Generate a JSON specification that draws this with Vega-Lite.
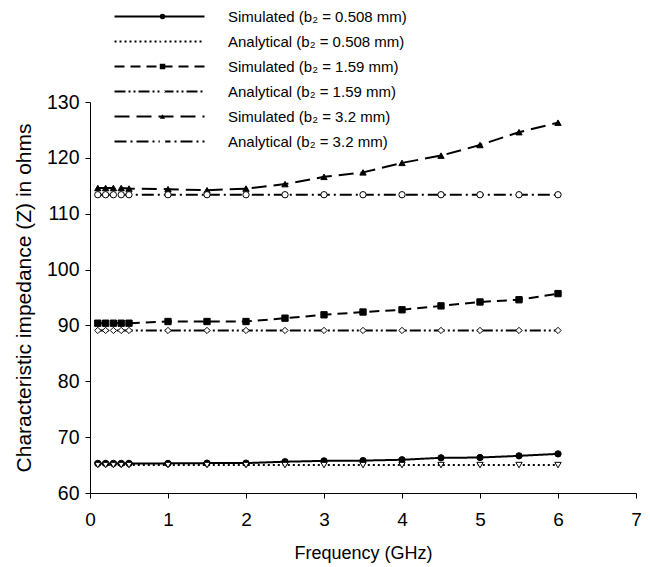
{
  "$schema": "https://vega.github.io/schema/vega-lite/v6.json",
  "width": 546,
  "height": 391,
  "autosize": {"type": "none"},
  "padding": {"left": 90, "top": 102, "right": 14, "bottom": 74},
  "background": "white",
  "config": {
    "view": {"stroke": null},
    "font": "Liberation Sans",
    "axis": {"domainColor": "black", "tickColor": "black", "labelColor": "black", "titleColor": "black", "grid": false, "tickSize": 5, "labelFont": "Liberation Sans", "titleFont": "Liberation Sans", "titleFontWeight": "normal"},
    "legend": {"labelFont": "Liberation Sans", "labelColor": "black"}
  },
  "datasets": {
    "pts": [
      {"f": 0.1, "z": 65.3, "s": "Simulated (b₂ = 0.508 mm)"},
      {"f": 0.2, "z": 65.3, "s": "Simulated (b₂ = 0.508 mm)"},
      {"f": 0.3, "z": 65.3, "s": "Simulated (b₂ = 0.508 mm)"},
      {"f": 0.4, "z": 65.3, "s": "Simulated (b₂ = 0.508 mm)"},
      {"f": 0.5, "z": 65.3, "s": "Simulated (b₂ = 0.508 mm)"},
      {"f": 1.0, "z": 65.3, "s": "Simulated (b₂ = 0.508 mm)"},
      {"f": 1.5, "z": 65.35, "s": "Simulated (b₂ = 0.508 mm)"},
      {"f": 2.0, "z": 65.35, "s": "Simulated (b₂ = 0.508 mm)"},
      {"f": 2.5, "z": 65.6, "s": "Simulated (b₂ = 0.508 mm)"},
      {"f": 3.0, "z": 65.75, "s": "Simulated (b₂ = 0.508 mm)"},
      {"f": 3.5, "z": 65.8, "s": "Simulated (b₂ = 0.508 mm)"},
      {"f": 4.0, "z": 65.95, "s": "Simulated (b₂ = 0.508 mm)"},
      {"f": 4.5, "z": 66.3, "s": "Simulated (b₂ = 0.508 mm)"},
      {"f": 5.0, "z": 66.35, "s": "Simulated (b₂ = 0.508 mm)"},
      {"f": 5.5, "z": 66.65, "s": "Simulated (b₂ = 0.508 mm)"},
      {"f": 6.0, "z": 67.0, "s": "Simulated (b₂ = 0.508 mm)"},

      {"f": 0.1, "z": 65.0, "s": "Analytical (b₂ = 0.508 mm)"},
      {"f": 0.2, "z": 65.0, "s": "Analytical (b₂ = 0.508 mm)"},
      {"f": 0.3, "z": 65.0, "s": "Analytical (b₂ = 0.508 mm)"},
      {"f": 0.4, "z": 65.0, "s": "Analytical (b₂ = 0.508 mm)"},
      {"f": 0.5, "z": 65.0, "s": "Analytical (b₂ = 0.508 mm)"},
      {"f": 1.0, "z": 65.0, "s": "Analytical (b₂ = 0.508 mm)"},
      {"f": 1.5, "z": 65.0, "s": "Analytical (b₂ = 0.508 mm)"},
      {"f": 2.0, "z": 65.0, "s": "Analytical (b₂ = 0.508 mm)"},
      {"f": 2.5, "z": 65.0, "s": "Analytical (b₂ = 0.508 mm)"},
      {"f": 3.0, "z": 65.0, "s": "Analytical (b₂ = 0.508 mm)"},
      {"f": 3.5, "z": 65.0, "s": "Analytical (b₂ = 0.508 mm)"},
      {"f": 4.0, "z": 65.0, "s": "Analytical (b₂ = 0.508 mm)"},
      {"f": 4.5, "z": 65.0, "s": "Analytical (b₂ = 0.508 mm)"},
      {"f": 5.0, "z": 65.0, "s": "Analytical (b₂ = 0.508 mm)"},
      {"f": 5.5, "z": 65.0, "s": "Analytical (b₂ = 0.508 mm)"},
      {"f": 6.0, "z": 65.0, "s": "Analytical (b₂ = 0.508 mm)"},

      {"f": 0.1, "z": 90.4, "s": "Simulated (b₂ = 1.59 mm)"},
      {"f": 0.2, "z": 90.4, "s": "Simulated (b₂ = 1.59 mm)"},
      {"f": 0.3, "z": 90.4, "s": "Simulated (b₂ = 1.59 mm)"},
      {"f": 0.4, "z": 90.4, "s": "Simulated (b₂ = 1.59 mm)"},
      {"f": 0.5, "z": 90.4, "s": "Simulated (b₂ = 1.59 mm)"},
      {"f": 1.0, "z": 90.7, "s": "Simulated (b₂ = 1.59 mm)"},
      {"f": 1.5, "z": 90.7, "s": "Simulated (b₂ = 1.59 mm)"},
      {"f": 2.0, "z": 90.7, "s": "Simulated (b₂ = 1.59 mm)"},
      {"f": 2.5, "z": 91.3, "s": "Simulated (b₂ = 1.59 mm)"},
      {"f": 3.0, "z": 91.9, "s": "Simulated (b₂ = 1.59 mm)"},
      {"f": 3.5, "z": 92.4, "s": "Simulated (b₂ = 1.59 mm)"},
      {"f": 4.0, "z": 92.8, "s": "Simulated (b₂ = 1.59 mm)"},
      {"f": 4.5, "z": 93.5, "s": "Simulated (b₂ = 1.59 mm)"},
      {"f": 5.0, "z": 94.2, "s": "Simulated (b₂ = 1.59 mm)"},
      {"f": 5.5, "z": 94.6, "s": "Simulated (b₂ = 1.59 mm)"},
      {"f": 6.0, "z": 95.7, "s": "Simulated (b₂ = 1.59 mm)"},

      {"f": 0.1, "z": 89.1, "s": "Analytical (b₂ = 1.59 mm)"},
      {"f": 0.2, "z": 89.1, "s": "Analytical (b₂ = 1.59 mm)"},
      {"f": 0.3, "z": 89.1, "s": "Analytical (b₂ = 1.59 mm)"},
      {"f": 0.4, "z": 89.1, "s": "Analytical (b₂ = 1.59 mm)"},
      {"f": 0.5, "z": 89.1, "s": "Analytical (b₂ = 1.59 mm)"},
      {"f": 1.0, "z": 89.1, "s": "Analytical (b₂ = 1.59 mm)"},
      {"f": 1.5, "z": 89.1, "s": "Analytical (b₂ = 1.59 mm)"},
      {"f": 2.0, "z": 89.1, "s": "Analytical (b₂ = 1.59 mm)"},
      {"f": 2.5, "z": 89.1, "s": "Analytical (b₂ = 1.59 mm)"},
      {"f": 3.0, "z": 89.1, "s": "Analytical (b₂ = 1.59 mm)"},
      {"f": 3.5, "z": 89.1, "s": "Analytical (b₂ = 1.59 mm)"},
      {"f": 4.0, "z": 89.1, "s": "Analytical (b₂ = 1.59 mm)"},
      {"f": 4.5, "z": 89.1, "s": "Analytical (b₂ = 1.59 mm)"},
      {"f": 5.0, "z": 89.1, "s": "Analytical (b₂ = 1.59 mm)"},
      {"f": 5.5, "z": 89.1, "s": "Analytical (b₂ = 1.59 mm)"},
      {"f": 6.0, "z": 89.1, "s": "Analytical (b₂ = 1.59 mm)"},

      {"f": 0.1, "z": 114.6, "s": "Simulated (b₂ = 3.2 mm)"},
      {"f": 0.2, "z": 114.6, "s": "Simulated (b₂ = 3.2 mm)"},
      {"f": 0.3, "z": 114.6, "s": "Simulated (b₂ = 3.2 mm)"},
      {"f": 0.4, "z": 114.6, "s": "Simulated (b₂ = 3.2 mm)"},
      {"f": 0.5, "z": 114.5, "s": "Simulated (b₂ = 3.2 mm)"},
      {"f": 1.0, "z": 114.4, "s": "Simulated (b₂ = 3.2 mm)"},
      {"f": 1.5, "z": 114.2, "s": "Simulated (b₂ = 3.2 mm)"},
      {"f": 2.0, "z": 114.5, "s": "Simulated (b₂ = 3.2 mm)"},
      {"f": 2.5, "z": 115.3, "s": "Simulated (b₂ = 3.2 mm)"},
      {"f": 3.0, "z": 116.6, "s": "Simulated (b₂ = 3.2 mm)"},
      {"f": 3.5, "z": 117.4, "s": "Simulated (b₂ = 3.2 mm)"},
      {"f": 4.0, "z": 119.1, "s": "Simulated (b₂ = 3.2 mm)"},
      {"f": 4.5, "z": 120.4, "s": "Simulated (b₂ = 3.2 mm)"},
      {"f": 5.0, "z": 122.3, "s": "Simulated (b₂ = 3.2 mm)"},
      {"f": 5.5, "z": 124.6, "s": "Simulated (b₂ = 3.2 mm)"},
      {"f": 6.0, "z": 126.3, "s": "Simulated (b₂ = 3.2 mm)"},

      {"f": 0.1, "z": 113.4, "s": "Analytical (b₂ = 3.2 mm)"},
      {"f": 0.2, "z": 113.4, "s": "Analytical (b₂ = 3.2 mm)"},
      {"f": 0.3, "z": 113.4, "s": "Analytical (b₂ = 3.2 mm)"},
      {"f": 0.4, "z": 113.4, "s": "Analytical (b₂ = 3.2 mm)"},
      {"f": 0.5, "z": 113.4, "s": "Analytical (b₂ = 3.2 mm)"},
      {"f": 1.0, "z": 113.4, "s": "Analytical (b₂ = 3.2 mm)"},
      {"f": 1.5, "z": 113.4, "s": "Analytical (b₂ = 3.2 mm)"},
      {"f": 2.0, "z": 113.4, "s": "Analytical (b₂ = 3.2 mm)"},
      {"f": 2.5, "z": 113.4, "s": "Analytical (b₂ = 3.2 mm)"},
      {"f": 3.0, "z": 113.4, "s": "Analytical (b₂ = 3.2 mm)"},
      {"f": 3.5, "z": 113.4, "s": "Analytical (b₂ = 3.2 mm)"},
      {"f": 4.0, "z": 113.4, "s": "Analytical (b₂ = 3.2 mm)"},
      {"f": 4.5, "z": 113.4, "s": "Analytical (b₂ = 3.2 mm)"},
      {"f": 5.0, "z": 113.4, "s": "Analytical (b₂ = 3.2 mm)"},
      {"f": 5.5, "z": 113.4, "s": "Analytical (b₂ = 3.2 mm)"},
      {"f": 6.0, "z": 113.4, "s": "Analytical (b₂ = 3.2 mm)"}
    ]
  },
  "data": {"name": "pts"},
  "encoding": {
    "x": {"field": "f", "type": "quantitative", "scale": {"domain": [0, 7], "nice": false},
      "axis": {"values": [0, 1, 2, 3, 4, 5, 6, 7], "title": "Frequency (GHz)", "labelFontSize": 19, "titleFontSize": 18, "labelPadding": 12, "titlePadding": 15, "labelFlush": false}},
    "y": {"field": "z", "type": "quantitative", "scale": {"domain": [60, 130], "nice": false, "zero": false},
      "axis": {"values": [60, 70, 80, 90, 100, 110, 120, 130], "title": "Characteristic impedance (Z) in ohms", "labelFontSize": 19.5, "titleFontSize": 21, "labelPadding": 6, "titlePadding": 12, "labelFlush": false}}
  },
  "layer": [
    {
      "mark": {"type": "line", "color": "black", "strokeWidth": 2},
      "encoding": {
        "strokeDash": {"field": "s", "type": "nominal",
          "sort": ["Simulated (b₂ = 0.508 mm)", "Analytical (b₂ = 0.508 mm)", "Simulated (b₂ = 1.59 mm)", "Analytical (b₂ = 1.59 mm)", "Simulated (b₂ = 3.2 mm)", "Analytical (b₂ = 3.2 mm)"],
          "scale": {"range": [[1, 0], [2, 3], [10, 6], [11, 3, 2, 3, 2, 3], [15, 7], [12, 4, 2, 4]]},
          "legend": {"orient": "none", "legendX": 62, "legendY": -93, "title": null, "symbolType": "M-9,0H9", "symbolSize": 100, "symbolStrokeColor": "black", "symbolStrokeWidth": 2, "labelFontSize": 15, "labelOffset": 61, "rowPadding": 9, "padding": 0, "labelLimit": 400}}
      }
    },
    {
      "mark": {"type": "point", "filled": true, "stroke": "black", "strokeWidth": 1, "size": 40, "opacity": 1},
      "encoding": {
        "shape": {"field": "s", "type": "nominal",
          "scale": {"domain": ["Simulated (b₂ = 0.508 mm)", "Analytical (b₂ = 0.508 mm)", "Simulated (b₂ = 1.59 mm)", "Analytical (b₂ = 1.59 mm)", "Simulated (b₂ = 3.2 mm)", "Analytical (b₂ = 3.2 mm)"],
            "range": ["circle", "triangle-down", "square", "diamond", "triangle-up", "circle"]},
          "legend": {"orient": "none", "legendX": 65, "legendY": -93, "title": null, "symbolSize": 30, "symbolStrokeColor": "black", "symbolStrokeWidth": 1, "labelFontSize": 15, "labelOpacity": 0, "labelExpr": "' '", "rowPadding": 9, "padding": 0, "labelLimit": 400}},
        "fill": {"field": "s", "type": "nominal",
          "scale": {"domain": ["Simulated (b₂ = 0.508 mm)", "Analytical (b₂ = 0.508 mm)", "Simulated (b₂ = 1.59 mm)", "Analytical (b₂ = 1.59 mm)", "Simulated (b₂ = 3.2 mm)", "Analytical (b₂ = 3.2 mm)"],
            "range": ["black", "white", "black", "white", "black", "white"]},
          "legend": {"orient": "none", "legendX": 65, "legendY": -93, "title": null, "symbolSize": 30, "symbolStrokeColor": "black", "symbolStrokeWidth": 1, "labelFontSize": 15, "labelOpacity": 0, "labelExpr": "' '", "rowPadding": 9, "padding": 0, "labelLimit": 400}}
      }
    }
  ]
}
